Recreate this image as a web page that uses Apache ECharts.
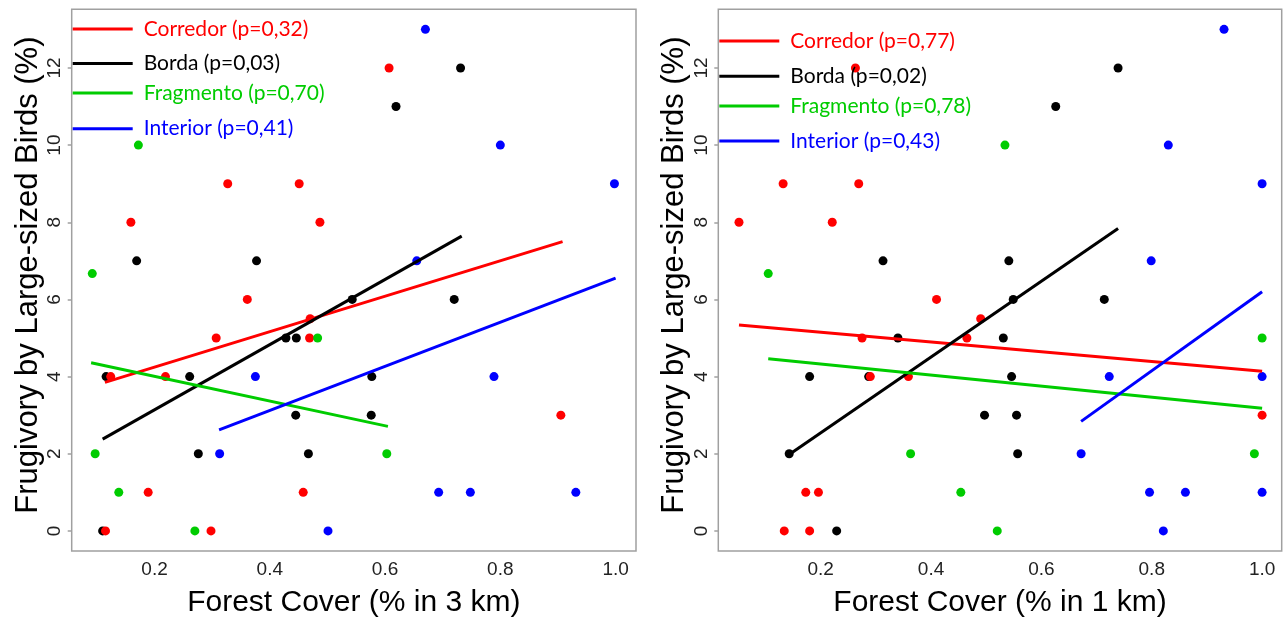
<!DOCTYPE html>
<html>
<head>
<meta charset="utf-8">
<script src="https://cdn.jsdelivr.net/npm/echarts@6/dist/echarts.min.js"></script>
<style>
  html, body { margin: 0; padding: 0; background: #fff; }
  #chart { width: 1288px; height: 623px; }
</style>
</head>
<body>
<div id="chart"></div>
<script>
// Site groups and the p-values of each group's fitted line
const groups = ['Corredor', 'Borda', 'Fragmento', 'Interior'];
const groupColors = ['#ff0000', '#000000', '#00cc00', '#0000ff'];
const pValues3km = ['0,32', '0,03', '0,70', '0,41'];
const pValues1km = ['0,77', '0,02', '0,78', '0,43'];

// Tick labels
const xTicks = [0.2, 0.4, 0.6, 0.8, 1.0];
const yTicks = [0, 2, 4, 6, 8, 10, 12];

// Forest cover within 3 km vs frugivory by large-sized birds: [cover, %]
const corredor3km = [[0.607, 12], [0.327, 9], [0.451, 9], [0.159, 8], [0.487, 8], [0.361, 6], [0.470, 5.5], [0.469, 5],
  [0.307, 5], [0.124, 4], [0.219, 4], [0.905, 3], [0.189, 1], [0.458, 1], [0.115, 0], [0.298, 0]];
const borda3km = [[0.731, 12], [0.619, 11], [0.169, 7], [0.377, 7], [0.543, 6], [0.720, 6], [0.428, 5], [0.446, 5],
  [0.116, 4], [0.261, 4], [0.577, 4], [0.445, 3], [0.576, 3], [0.276, 2], [0.467, 2], [0.110, 0]];
const fragmento3km = [[0.172, 10], [0.092, 6.67], [0.483, 5], [0.097, 2], [0.603, 2], [0.138, 1], [0.270, 0]];
const interior3km = [[0.670, 13], [0.800, 10], [0.998, 9], [0.655, 7], [0.375, 4], [0.789, 4], [0.313, 2],
  [0.693, 1], [0.748, 1], [0.931, 1], [0.501, 0]];

// Fitted lines (start and end of each group's range), 3 km
const corredorFit3km = [[0.114, 3.85], [0.908, 7.50]];
const bordaFit3km = [[0.110, 2.38], [0.733, 7.64]];
const fragmentoFit3km = [[0.090, 4.36], [0.605, 2.71]];
const interiorFit3km = [[0.312, 2.62], [1.000, 6.55]];

// Forest cover within 1 km
const corredor1km = [[0.263, 12], [0.132, 9], [0.269, 9], [0.052, 8], [0.221, 8], [0.410, 6], [0.490, 5.5], [0.275, 5],
  [0.465, 5], [0.290, 4], [0.359, 4], [1.000, 3], [0.173, 1], [0.196, 1], [0.134, 0], [0.180, 0]];
const borda1km = [[0.739, 12], [0.626, 11], [0.313, 7], [0.541, 7], [0.549, 6], [0.714, 6], [0.340, 5], [0.531, 5],
  [0.180, 4], [0.287, 4], [0.546, 4], [0.497, 3], [0.555, 3], [0.143, 2], [0.557, 2], [0.229, 0]];
const fragmento1km = [[0.534, 10], [0.105, 6.67], [1.000, 5], [0.363, 2], [0.986, 2], [0.454, 1], [0.520, 0]];
const interior1km = [[0.931, 13], [0.830, 10], [1.000, 9], [0.799, 7], [0.723, 4], [1.000, 4], [0.672, 2],
  [0.796, 1], [0.861, 1], [1.000, 1], [0.821, 0]];

// Fitted lines, 1 km
const corredorFit1km = [[0.052, 5.34], [1.000, 4.14]];
const bordaFit1km = [[0.143, 1.98], [0.739, 7.84]];
const fragmentoFit1km = [[0.105, 4.46], [1.000, 3.18]];
const interiorFit1km = [[0.672, 2.84], [1.000, 6.20]];

const points = [
  [corredor3km, borda3km, fragmento3km, interior3km],
  [corredor1km, borda1km, fragmento1km, interior1km]
];
const fits = [
  [corredorFit3km, bordaFit3km, fragmentoFit3km, interiorFit3km],
  [corredorFit1km, bordaFit1km, fragmentoFit1km, interiorFit1km]
];
const pValues = [pValues3km, pValues1km];
const xTitles = ['Forest Cover (% in 3 km)', 'Forest Cover (% in 1 km)'];
const yTitle = 'Frugivory by Large-sized Birds (%)';

const arial = "'Liberation Sans', Arial, sans-serif";
const legendFont = "Lato, 'Open Sans', sans-serif";

const panels = [
  { left: 71.7, width: 564.3, xMin: 0.0563, xMax: 1.0354 },
  { left: 718.3, width: 563.4, xMin: 0.0145, xMax: 1.0355 }
];
// vertical centres of the legend rows in each panel
const legendRows = [
  [29, 63.5, 93, 128.7],
  [41, 76.3, 106, 141]
];

const grid = panels.map(p => ({
  left: p.left, top: 9.3, width: p.width, height: 548,
  show: true, borderColor: '#a0a0a0', borderWidth: 1.5, backgroundColor: 'transparent'
}));

const xAxis = panels.map((p, i) => ({
  gridIndex: i, type: 'value', min: p.xMin, max: p.xMax,
  name: xTitles[i], nameLocation: 'middle', nameGap: 37,
  nameTextStyle: { fontSize: 30, fontFamily: arial, color: '#000' },
  axisLine: { show: false }, axisTick: { show: false }, splitLine: { show: false },
  axisLabel: {
    customValues: xTicks, formatter: v => v.toFixed(1),
    fontSize: 19, fontFamily: arial, color: '#222', margin: 9
  }
}));

const yAxis = panels.map((p, i) => ({
  gridIndex: i, type: 'value', min: -0.52, max: 13.52,
  name: yTitle, nameLocation: 'middle', nameGap: 28, nameRotate: 90,
  nameTextStyle: { fontSize: 31, fontFamily: arial, color: '#000', padding: [0, 0, 0, 10] },
  axisLine: { show: false }, splitLine: { show: false },
  axisTick: { show: true, customValues: yTicks, length: 4, lineStyle: { color: '#a0a0a0', width: 1.5 } },
  axisLabel: {
    customValues: yTicks, rotate: 90,
    fontSize: 19, fontFamily: arial, color: '#222', margin: 7
  }
}));

const series = [];
const drawOrder = [1, 0, 2, 3];
for (let panel = 0; panel < 2; panel++) {
  drawOrder.forEach(g => {
    series.push({
      name: groups[g] + ' ' + (panel === 0 ? '3 km' : '1 km'),
      type: 'scatter', xAxisIndex: panel, yAxisIndex: panel,
      data: points[panel][g], symbolSize: 9,
      itemStyle: { color: groupColors[g], opacity: 1 }, z: 2
    });
  });
  groups.forEach((name, g) => {
    series.push({
      name: name + ' (p=' + pValues[panel][g] + ')',
      type: 'line', xAxisIndex: panel, yAxisIndex: panel,
      data: fits[panel][g], symbol: 'none', showSymbol: false,
      lineStyle: { color: groupColors[g], width: 3 },
      itemStyle: { color: groupColors[g] }, z: 3
    });
  });
}

const legend = [];
for (let panel = 0; panel < 2; panel++) {
  groups.forEach((name, g) => {
    legend.push({
      data: [name + ' (p=' + pValues[panel][g] + ')'],
      left: panels[panel].left + 1, top: legendRows[panel][g] - 13,
      padding: 0, icon: 'rect', itemWidth: 60, itemHeight: 3,
      selectedMode: false,
      textStyle: { fontSize: 21, lineHeight: 26, fontFamily: legendFont, color: groupColors[g], padding: [0, 0, 0, 6] }
    });
  });
}

const chart = echarts.init(document.getElementById('chart'), null, { renderer: 'canvas' });
chart.setOption({
  animation: false,
  backgroundColor: '#fff',
  grid, xAxis, yAxis, series, legend
});
</script>
</body>
</html>
